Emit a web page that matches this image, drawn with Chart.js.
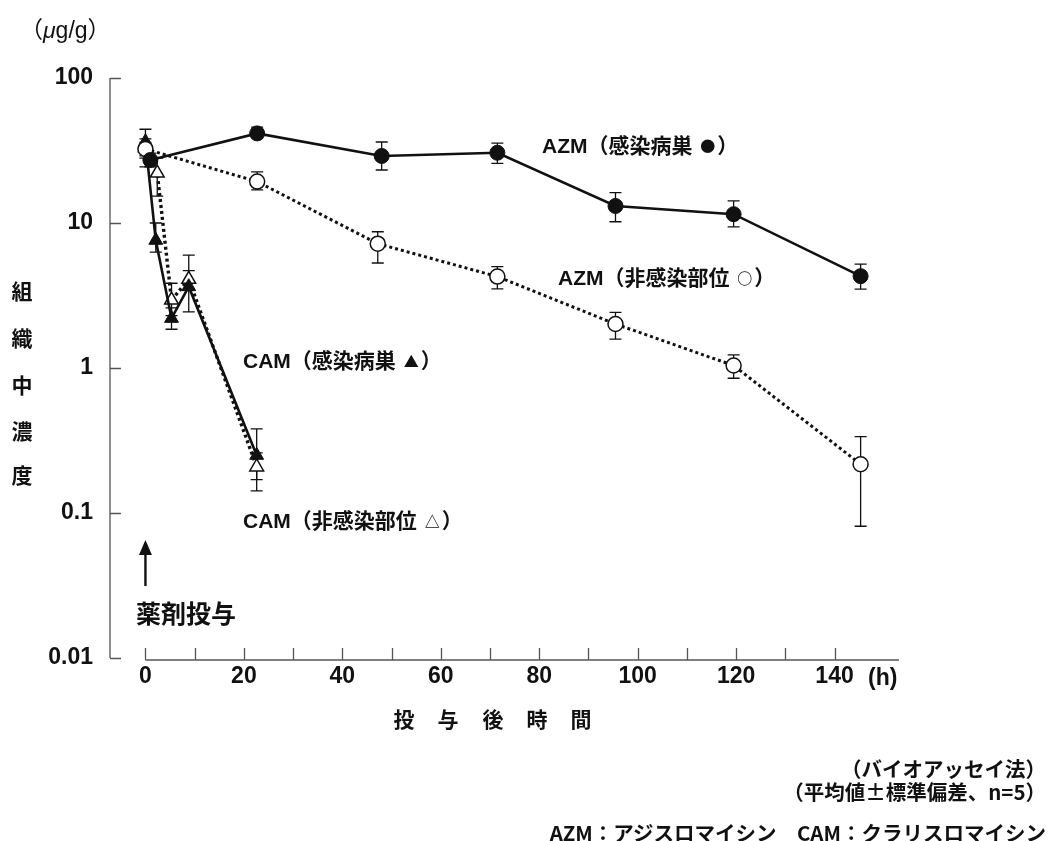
<!DOCTYPE html>
<html lang="ja">
<head>
<meta charset="utf-8">
<script src="https://cdn.jsdelivr.net/npm/chart.js@4.4.1/dist/chart.umd.min.js"></script>
<style>
  html, body { margin: 0; padding: 0; background: #fff; }
  #wrap { position: relative; width: 1058px; height: 841px; overflow: hidden; }
  canvas { position: absolute; left: 0; top: 0; }
  .t { position: absolute; white-space: nowrap; color: #111; line-height: 1;
       font-family: "Liberation Sans", "Noto Sans CJK JP", sans-serif; }
  .c { transform: translate(-50%, -50%); }
  .l { transform: translate(0, -50%); }
  .r { transform: translate(-100%, -50%); }
  .cjk { font-family: "Noto Sans CJK JP", sans-serif; font-weight: 700; }
  .sym { font-family: "Noto Sans CJK JP", sans-serif; }
  .mk { font-family: "Noto Sans CJK JP", sans-serif; font-size: 15px; vertical-align: 1px; margin: 0 2px; }
  .ann { font-size: 21px; font-weight: 700; }
  .note { font-family: "Noto Sans CJK JP", sans-serif; font-weight: 700; font-size: 20.5px; }
</style>
</head>
<body>
<div id="wrap">
  <canvas id="chart" width="1058" height="841"></canvas>

  <div class="t l" style="left:20px; top:29px; font-size:23px;"><span class="sym">（</span><span style="font-style:italic">μ</span>g/g<span class="sym">）</span></div>

  <div class="t c cjk" style="left:22px; top:290px; font-size:21px;">組</div>
  <div class="t c cjk" style="left:22px; top:337px; font-size:21px;">織</div>
  <div class="t c cjk" style="left:22px; top:384px; font-size:21px;">中</div>
  <div class="t c cjk" style="left:22px; top:430px; font-size:21px;">濃</div>
  <div class="t c cjk" style="left:22px; top:474px; font-size:21px;">度</div>

  <div class="t c cjk" style="left:404px; top:718px; font-size:21px;">投</div>
  <div class="t c cjk" style="left:448px; top:718px; font-size:21px;">与</div>
  <div class="t c cjk" style="left:493px; top:718px; font-size:21px;">後</div>
  <div class="t c cjk" style="left:537px; top:718px; font-size:21px;">時</div>
  <div class="t c cjk" style="left:581px; top:718px; font-size:21px;">間</div>

  <div class="t l" style="left:868px; top:677px; font-size:23px; font-weight:700;">(h)</div>

  <div class="t l ann" style="left:542px; top:145px;">AZM（感染病巣 <span class="mk">●</span>）</div>
  <div class="t l ann" style="left:558px; top:277px;">AZM（非感染部位 <span class="mk">○</span>）</div>
  <div class="t l ann" style="left:243px; top:360px;">CAM（感染病巣 <span class="mk">▲</span>）</div>
  <div class="t l ann" style="left:243px; top:520px;">CAM（非感染部位 <span class="mk">△</span>）</div>

  <div class="t l cjk" style="left:136px; top:612px; font-size:25px;">薬剤投与</div>

  <div class="t r note" style="left:1046px; top:768px;">（バイオアッセイ法）</div>
  <div class="t r note" style="left:1046px; top:791px;">（平均値±標準偏差、n=5）</div>
  <div class="t r note" style="left:1046px; top:832px;">AZM：アジスロマイシン　CAM：クラリスロマイシン</div>
</div>

<script>
// Time after dosing (h)
const azmTimesInfected = [1, 22.7, 48, 71.5, 95.5, 119.5, 145.3];
const azmTimesNormal   = [0, 22.7, 47.2, 71.5, 95.5, 119.5, 145.3];
const camTimesInfected = [0, 2.1, 5.3, 8.8, 22.6];
const camTimesNormal   = [0, 2.4, 5.3, 8.8, 22.6];

// AZM, infected focus (mean, lower, upper) µg/g
const azmInfected   = [27.2, 41.5, 29.0, 30.5, 13.1, 11.5, 4.3];
const azmInfectedLo = [24.4, 38.6, 23.2, 25.8, 10.2, 9.4, 3.5];
const azmInfectedHi = [30.3, 45.9, 36.2, 35.5, 16.2, 14.2, 5.2];

// AZM, non-infected site
const azmNormal   = [32.4, 19.3, 7.2, 4.27, 2.01, 1.04, 0.217];
const azmNormalLo = [24.4, 16.9, 5.3, 3.51, 1.58, 0.85, 0.081];
const azmNormalHi = [36.0, 22.5, 8.7, 5.0, 2.42, 1.23, 0.336];

// CAM, infected focus
const camInfected   = [36.4, 7.6, 2.2, 3.64, 0.25];
const camInfectedLo = [29.0, 6.3, 1.85, 2.44, 0.17];
const camInfectedHi = [44.3, 10.0, 2.6, 6.0, 0.38];

// CAM, non-infected site
const camNormal   = [33.0, 22.1, 2.94, 4.09, 0.208];
const camNormalLo = [28.0, 15.3, 2.3, 3.5, 0.142];
const camNormalHi = [38.0, 28.0, 3.84, 4.7, 0.26];

// Axis ticks
const xTickValues = [0, 10, 20, 30, 40, 50, 60, 70, 80, 90, 100, 110, 120, 130, 140];
const xTickLabels = ['0', '', '20', '', '40', '', '60', '', '80', '', '100', '', '120', '', '140'];
const yTickValues = [0.01, 0.1, 1, 10, 100];
const yTickLabels = ['0.01', '0.1', '1', '10', '100'];

const INK = '#111';

function points(times, vals) {
  return times.map((t, i) => ({ x: t, y: vals[i] }));
}

const seriesBars = [
  { times: azmTimesInfected, lo: azmInfectedLo, hi: azmInfectedHi },
  { times: azmTimesNormal,   lo: azmNormalLo,   hi: azmNormalHi },
  { times: camTimesInfected, lo: camInfectedLo, hi: camInfectedHi },
  { times: camTimesNormal,   lo: camNormalLo,   hi: camNormalHi }
];

// Error bars (mean ± SD), drawn under the markers
const errorBars = {
  id: 'errorBars',
  beforeDatasetsDraw(chart) {
    const { ctx, scales: { x, y } } = chart;
    ctx.save();
    ctx.strokeStyle = INK;
    ctx.lineWidth = 1.3;
    seriesBars.forEach(s => {
      s.times.forEach((t, i) => {
        const px = x.getPixelForValue(t);
        const top = y.getPixelForValue(s.hi[i]);
        const bot = y.getPixelForValue(s.lo[i]);
        ctx.beginPath();
        ctx.moveTo(px, top); ctx.lineTo(px, bot);
        ctx.moveTo(px - 6, top); ctx.lineTo(px + 6, top);
        ctx.moveTo(px - 6, bot); ctx.lineTo(px + 6, bot);
        ctx.stroke();
      });
    });
    ctx.restore();
  }
};

// Axis lines with inward tick marks; the time axis starts at 0 h
const axesFrame = {
  id: 'axesFrame',
  afterDraw(chart) {
    const { ctx, chartArea: a, scales: { x, y } } = chart;
    ctx.save();
    ctx.strokeStyle = '#555';
    ctx.lineWidth = 1.3;
    ctx.beginPath();
    ctx.moveTo(a.left, a.top); ctx.lineTo(a.left, a.bottom);
    yTickValues.forEach(v => {
      const py = Math.round(y.getPixelForValue(v)) + 0.5;
      ctx.moveTo(a.left, py); ctx.lineTo(a.left + 11, py);
    });
    const ay = a.bottom + 2;
    ctx.moveTo(x.getPixelForValue(0), ay); ctx.lineTo(a.right, ay);
    xTickValues.forEach(v => {
      const px = Math.round(x.getPixelForValue(v)) + 0.5;
      ctx.moveTo(px, ay); ctx.lineTo(px, ay - 12);
    });
    ctx.stroke();

    // dosing arrow at 0 h
    const ax = x.getPixelForValue(0);
    ctx.strokeStyle = INK;
    ctx.fillStyle = INK;
    ctx.lineWidth = 2.4;
    ctx.beginPath();
    ctx.moveTo(ax, 586); ctx.lineTo(ax, 552);
    ctx.stroke();
    ctx.beginPath();
    ctx.moveTo(ax, 540); ctx.lineTo(ax - 6.5, 555); ctx.lineTo(ax + 6.5, 555);
    ctx.closePath();
    ctx.fill();
    ctx.restore();
  }
};

const tickFont = { family: '"Liberation Sans", Arial, sans-serif', size: 23, weight: 'bold' };

new Chart(document.getElementById('chart'), {
  type: 'line',
  data: {
    datasets: [
      {
        label: 'AZM 感染病巣',
        data: points(azmTimesInfected, azmInfected),
        borderColor: INK, borderWidth: 2.6,
        pointStyle: 'circle', pointRadius: 7.5,
        pointBackgroundColor: INK, pointBorderColor: INK, pointBorderWidth: 1
      },
      {
        label: 'AZM 非感染部位',
        data: points(azmTimesNormal, azmNormal),
        borderColor: INK, borderWidth: 3, borderDash: [3, 3],
        pointStyle: 'circle', pointRadius: 7.5,
        pointBackgroundColor: '#fff', pointBorderColor: INK, pointBorderWidth: 1.5
      },
      {
        label: 'CAM 感染病巣',
        data: points(camTimesInfected, camInfected),
        borderColor: INK, borderWidth: 2.6,
        pointStyle: 'triangle', pointRadius: 8,
        pointBackgroundColor: INK, pointBorderColor: INK, pointBorderWidth: 1
      },
      {
        label: 'CAM 非感染部位',
        data: points(camTimesNormal, camNormal),
        borderColor: INK, borderWidth: 3.4, borderDash: [3, 3],
        pointStyle: 'triangle', pointRadius: 8,
        pointBackgroundColor: '#fff', pointBorderColor: INK, pointBorderWidth: 1.5
      }
    ]
  },
  options: {
    responsive: false,
    animation: false,
    events: [],
    layout: { padding: { left: 0, right: 159, top: 78, bottom: 0 } },
    plugins: { legend: { display: false }, tooltip: { enabled: false } },
    scales: {
      x: {
        type: 'linear',
        min: -7.2,
        max: 153.1,
        border: { display: false },
        grid: { display: false, drawTicks: false },
        afterBuildTicks: s => { s.ticks = xTickValues.map(v => ({ value: v })); },
        afterFit: s => { s.height = 841 - 658; },
        ticks: {
          autoSkip: false, maxRotation: 0, padding: 5,
          color: INK, font: tickFont,
          callback: (v, i) => xTickLabels[i]
        }
      },
      y: {
        type: 'logarithmic',
        min: 0.01,
        max: 100,
        border: { display: false },
        grid: { display: false, drawTicks: false },
        afterBuildTicks: s => { s.ticks = yTickValues.map(v => ({ value: v })); },
        afterFit: s => { s.width = 110; },
        ticks: {
          autoSkip: false, padding: 17,
          color: INK, font: tickFont,
          callback: (v, i) => yTickLabels[i]
        }
      }
    }
  },
  plugins: [errorBars, axesFrame]
});
</script>
</body>
</html>
